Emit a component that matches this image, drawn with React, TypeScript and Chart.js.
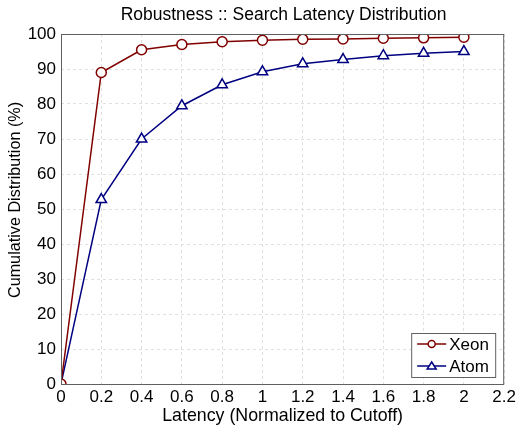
import React, { useEffect, useRef } from "react";
import { Chart, registerables } from "chart.js";

Chart.register(...registerables);

const latency = [0, 0.2, 0.4, 0.6, 0.8, 1.0, 1.2, 1.4, 1.6, 1.8, 2.0];
const xeon = [0, 89, 95.5, 97, 97.8, 98.2, 98.5, 98.6, 98.8, 98.9, 99.1];
const atom = [0, 52.7, 70, 79.5, 85.5, 89.2, 91.5, 92.7, 93.8, 94.5, 95];
const seriesNames = ["Xeon", "Atom"];
const titleText = "Robustness :: Search Latency Distribution";
const xTitle = "Latency (Normalized to Cutoff)";
const yTitle = "Cumulative Distribution (%)";

const FONT = "'Liberation Sans', Arial, Helvetica, sans-serif";
const RED = "#800000";
const BLUE = "#000080";

const framePlugin = {
  id: "framePlugin",
  afterDraw(chart: any) {
    const { ctx, chartArea } = chart;
    const { left, right, top, bottom } = chartArea;
    ctx.save();
    // frame
    ctx.strokeStyle = "#606060";
    ctx.lineWidth = 1;
    ctx.strokeRect(left + 0.5, top + 0.5, right - left - 1, bottom - top);
    // title
    ctx.fillStyle = "#000";
    ctx.font = `17.5px ${FONT}`;
    ctx.textAlign = "center";
    ctx.textBaseline = "middle";
    ctx.fillText(titleText, (left + right) / 2 + 1, 15);
    // x title
    ctx.font = `17.8px ${FONT}`;
    ctx.textBaseline = "alphabetic";
    ctx.fillText(xTitle, (left + right) / 2, 421);
    // y title
    ctx.save();
    ctx.translate(16, 200);
    ctx.rotate(-Math.PI / 2);
    ctx.textBaseline = "middle";
    ctx.font = `16.2px ${FONT}`;
    ctx.fillText(yTitle, 0, 0);
    ctx.restore();
    // legend
    const bx = right - 93, by = bottom - 51, bw = 84, bh = 44;
    ctx.fillStyle = "#fff";
    ctx.fillRect(bx, by, bw, bh);
    ctx.strokeStyle = "#606060";
    ctx.strokeRect(bx + 0.5, by + 0.5, bw, bh);
    const colors = [RED, BLUE];
    seriesNames.forEach((name, i) => {
      const y = by + 11 + i * 22;
      ctx.strokeStyle = colors[i];
      ctx.lineWidth = 1.5;
      ctx.beginPath();
      ctx.moveTo(bx + 6, y);
      ctx.lineTo(bx + 35, y);
      ctx.stroke();
      ctx.beginPath();
      const cx = bx + 20.5;
      if (i === 0) {
        ctx.arc(cx, y, 3.5, 0, Math.PI * 2);
      } else {
        ctx.moveTo(cx, y - 4);
        ctx.lineTo(cx + 4.5, y + 3);
        ctx.lineTo(cx - 4.5, y + 3);
        ctx.closePath();
      }
      ctx.fillStyle = "#fff";
      ctx.fill();
      ctx.stroke();
      ctx.fillStyle = "#000";
      ctx.font = `17px ${FONT}`;
      ctx.textAlign = "left";
      ctx.textBaseline = "middle";
      ctx.fillText(name, bx + 38, y + 1);
    });
    ctx.restore();
  },
};

export default function App() {
  const ref = useRef<HTMLCanvasElement>(null);
  useEffect(() => {
    document.body.style.margin = "0";
    const ctx = ref.current!.getContext("2d")!;
    const chart = new Chart(ctx, {
      type: "line",
      data: {
        datasets: [
          {
            label: seriesNames[0],
            data: latency.map((x, i) => ({ x, y: xeon[i] })),
            borderColor: RED,
            backgroundColor: "#fff",
            borderWidth: 1.5,
            pointStyle: "circle",
            pointRadius: 5,
            pointBorderWidth: 1.5,
            pointBorderColor: RED,
            pointBackgroundColor: "#fff",
          },
          {
            label: seriesNames[1],
            data: latency.map((x, i) => ({ x, y: atom[i] })),
            borderColor: BLUE,
            backgroundColor: "#fff",
            borderWidth: 1.5,
            pointStyle: "triangle",
            pointRadius: 6,
            pointBorderWidth: 1.5,
            pointBorderColor: BLUE,
            pointBackgroundColor: "#fff",
          },
        ],
      },
      options: {
        animation: false,
        responsive: false,
        devicePixelRatio: 1,
        layout: { padding: { top: 34, right: 14, left: 0, bottom: 0 } },
        plugins: {
          legend: { display: false },
          title: { display: false },
          tooltip: { enabled: false },
        },
        scales: {
          x: {
            type: "linear",
            min: 0,
            max: 2.2,
            border: { display: false, dash: [3, 3] } as any,
            grid: { color: "#e0e0e0", drawTicks: false },
            ticks: {
              stepSize: 0.2,
              color: "#000",
              padding: 3,
              font: { family: FONT, size: 17 },
              callback: (v: any) => String(parseFloat(Number(v).toFixed(1))),
              maxRotation: 0,
            },
            afterFit: (s: any) => {
              s.height = 41;
            },
          },
          y: {
            min: 0,
            max: 100,
            border: { display: false, dash: [3, 3] } as any,
            grid: { color: "#e0e0e0", drawTicks: false },
            ticks: {
              stepSize: 10,
              color: "#000",
              padding: 5,
              font: { family: FONT, size: 17 },
            },
            afterFit: (s: any) => {
              s.width = 61;
            },
          },
        },
      },
      plugins: [framePlugin],
    });
    return () => chart.destroy();
  }, []);
  return (
    <div style={{ width: 519, height: 425 }}>
      <canvas ref={ref} width={519} height={425} style={{ display: "block" }} />
    </div>
  );
}
